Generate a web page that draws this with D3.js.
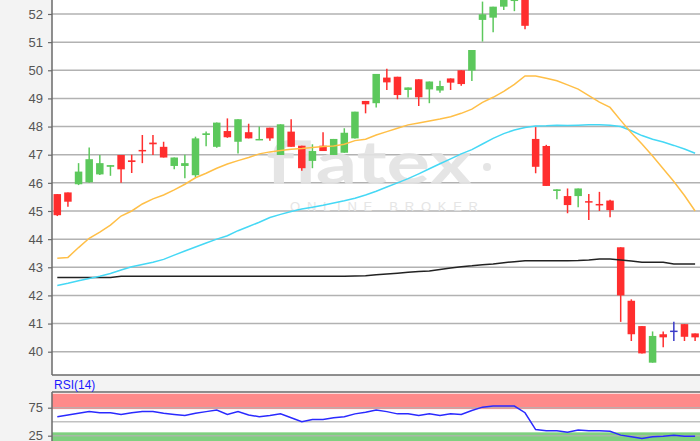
<!DOCTYPE html>
<html><head><meta charset="utf-8">
<script src="https://cdn.jsdelivr.net/npm/d3@7/dist/d3.min.js"></script>
<style>html,body{margin:0;padding:0;background:#f3f3f3;} svg{display:block}</style>
</head><body><svg id="c" width="700" height="441"></svg>
<script>
// ---- data ----
const days = [1,2,3,4,5,6,7,8,9,10,11,12,13,14,15,16,17,18,19,20,21,22,23,24,25,26,27,28,29,30,31,32,33,34,35,36,37,38,39,40,41,42,43,44,45,46,47,48,49,50,51,52,53,54,55,56,57,58,59,60,61];
const openP  = [45.6,45.66,45.95,46.02,46.3,46.57,46.99,46.8,47.17,47.43,47.28,46.6,46.6,46.27,47.7,47.28,47.84,47.46,47.8,47.52,47.96,46.99,47.82,47.32,46.78,47.32,46.99,47.07,47.58,48.91,48.83,49.74,49.77,49.3,49.68,49.32,49.28,49.71,50.0,49.99,51.79,51.87,52.26,52.46,52.7,47.56,47.31,45.71,45.53,45.53,45.35,45.25,45.37,43.71,41.81,40.91,39.61,40.62,40.75,40.98,40.65];
const highP  = [45.6,45.66,46.7,47.26,46.99,46.63,46.99,47.0,47.7,47.7,47.46,46.9,47.0,47.64,47.82,48.14,48.29,48.26,48.1,48.0,47.96,48.08,48.26,47.32,47.37,47.8,47.56,47.94,48.53,48.91,49.87,50.05,49.77,49.39,49.68,49.6,49.63,49.71,50.0,50.72,52.44,52.26,52.7,52.8,52.8,47.98,47.35,45.77,45.8,45.8,45.6,45.68,45.4,43.71,41.86,40.91,40.72,40.72,41.06,40.98,40.65];
const lowP   = [44.82,45.15,45.92,46.0,46.28,46.25,46.0,46.35,46.7,46.99,46.9,46.48,46.16,46.2,47.3,47.25,47.6,47.04,47.58,47.52,47.5,46.99,47.28,46.43,46.52,47.13,46.99,47.07,47.58,48.47,48.68,49.3,48.97,49.03,48.73,48.83,49.2,49.3,49.45,49.62,51.02,51.35,52.14,52.1,51.46,46.34,45.89,45.42,44.92,45.13,44.68,45.0,44.78,41.06,40.38,39.94,39.61,40.16,40.38,40.38,40.38];
const closeP = [44.85,45.33,46.4,46.84,46.7,46.63,46.48,46.74,47.12,47.37,46.9,46.9,46.7,47.58,47.76,48.14,47.62,48.26,47.58,47.56,47.58,48.08,47.28,46.52,47.13,47.13,47.56,47.78,48.53,48.79,49.87,49.57,49.12,49.39,49.04,49.6,49.44,49.56,49.51,50.72,51.99,52.26,52.6,52.7,51.58,46.57,45.89,45.77,45.21,45.8,45.31,45.2,45.03,42.0,40.62,39.94,40.56,40.51,40.75,40.53,40.51];
const sma20  = [43.32,43.35,43.7,44.03,44.25,44.5,44.82,45.0,45.25,45.43,45.57,45.75,45.95,46.18,46.34,46.52,46.67,46.79,46.9,47.03,47.1,47.15,47.19,47.22,47.26,47.29,47.31,47.37,47.5,47.55,47.7,47.82,47.94,48.06,48.13,48.2,48.27,48.35,48.47,48.62,48.86,49.04,49.25,49.5,49.8,49.8,49.72,49.63,49.48,49.33,49.1,48.87,48.68,48.22,47.78,47.38,46.95,46.5,46.05,45.55,45.0];
const sma50  = [42.35,42.43,42.52,42.6,42.68,42.78,42.9,43.02,43.1,43.18,43.28,43.43,43.58,43.72,43.86,44.0,44.12,44.3,44.45,44.6,44.77,44.88,44.98,45.07,45.13,45.2,45.28,45.36,45.45,45.57,45.7,45.85,46.0,46.15,46.32,46.5,46.68,46.85,47.03,47.18,47.38,47.58,47.75,47.88,47.97,48.02,48.03,48.05,48.04,48.05,48.06,48.06,48.05,48.0,47.85,47.68,47.55,47.45,47.33,47.2,47.05];
const sma200 = [42.64,42.64,42.64,42.64,42.64,42.64,42.68,42.68,42.68,42.68,42.68,42.68,42.68,42.68,42.68,42.68,42.68,42.68,42.68,42.68,42.68,42.68,42.68,42.68,42.68,42.68,42.68,42.68,42.69,42.7,42.73,42.76,42.79,42.82,42.85,42.87,42.92,42.97,43.02,43.05,43.09,43.12,43.16,43.2,43.23,43.23,43.23,43.23,43.23,43.24,43.26,43.29,43.29,43.26,43.22,43.18,43.18,43.18,43.12,43.12,43.12];
const rsi14  = [59,62,65,68,66,66,63,66,68,68,65,63,61,65,68,71,63,68,62,59,61,64,57,50,54,54,57,59,64,67,71,68,64,64,61,64,61,64,63,70,76,78,78,78,66,36,34,34,31,35,34,34,33,26,23,20,23,24,26,24,24];
const priceTicks = [40,41,42,43,44,45,46,47,48,49,50,51,52];
const rsiTicks = [25,75];
const rsiLabel = "RSI(14)";
const wmText = "flatex";
const wmSub = "ONLINE BROKER";

// ---- layout ----
const L = 52, R = 700, mainTop = 0, mainBot = 375, rsiTop = 392, rsiBot = 441;
const svg = d3.select("#c");
const x = d3.scalePoint().domain(days).range([57.3, 695.1]);
const y = d3.scaleLinear().domain([39.172, 52.497]).range([mainBot, mainTop]);
const yr = d3.scaleLinear().domain([75, 25]).range([407.7, 435.7]);

const C = {green:"#5cc85c", red:"#ff2e2e", doji:"#3a3ac8", orange:"#ffbf47", cyan:"#45d8f5", black:"#222", rsi:"#2a2aff", grid:"#b2b2b2", axis:"#6a6a6a", text:"#555"};

svg.append("defs").html(
  `<clipPath id="mc"><rect x="${L}" y="${mainTop}" width="${R-L}" height="${mainBot-mainTop}"/></clipPath>
   <clipPath id="rc"><rect x="${L}" y="${rsiTop}" width="${R-L}" height="${rsiBot-rsiTop}"/></clipPath>`);

// backgrounds
svg.append("rect").attr("x",L).attr("y",mainTop).attr("width",R-L).attr("height",mainBot-mainTop).attr("fill","#fff");
svg.append("rect").attr("x",L).attr("y",rsiTop).attr("width",R-L).attr("height",rsiBot-rsiTop).attr("fill","#fff");

// main grid
const main = svg.append("g").attr("clip-path","url(#mc)");
main.selectAll("line.g").data(priceTicks).join("line")
  .attr("x1",L).attr("x2",R).attr("y1",d=>y(d)).attr("y2",d=>y(d))
  .attr("stroke",C.grid).attr("stroke-width",1.5);

// watermark
const wm = main.append("g").attr("fill","#e3e3e3").attr("opacity",0.9);
wm.append("text").attr("x",266).attr("y",184).attr("font-family","Lato, 'DejaVu Sans', sans-serif")
  .attr("font-size",60).attr("font-weight",700).attr("textLength",206).attr("lengthAdjust","spacingAndGlyphs").text(wmText);
wm.append("circle").attr("cx",487).attr("cy",167).attr("r",4);
wm.append("text").attr("x",290).attr("y",211).attr("font-family","'Liberation Sans', Arial, sans-serif")
  .attr("font-size",13).attr("textLength",188).attr("lengthAdjust","spacing").text(wmSub);

// candles
const bw = 7.5;
const cg = main.append("g");
days.forEach((d,i)=>{
  const o=openP[i], c=closeP[i], h=highP[i], l=lowP[i];
  const col = c>o ? C.green : (c<o ? C.red : C.doji);
  const cx = x(d);
  cg.append("line").attr("x1",cx).attr("x2",cx).attr("y1",y(h)).attr("y2",y(l)).attr("stroke",col).attr("stroke-width",1.5);
  const top = y(Math.max(o,c)), bot = y(Math.min(o,c));
  cg.append("rect").attr("x",cx-bw/2).attr("y",top).attr("width",bw).attr("height",Math.max(bot-top,1.5)).attr("fill",col);
});

// moving averages
const lineGen = arr => d3.line().x((d,i)=>x(days[i])).y(d=>y(d))(arr);
main.append("path").attr("d",lineGen(sma200)).attr("fill","none").attr("stroke",C.black).attr("stroke-width",1.5);
main.append("path").attr("d",lineGen(sma50)).attr("fill","none").attr("stroke",C.cyan).attr("stroke-width",1.5);
main.append("path").attr("d",lineGen(sma20)).attr("fill","none").attr("stroke",C.orange).attr("stroke-width",1.5);

// main axis
const ax = svg.append("g").attr("transform",`translate(${L},0)`)
  .call(d3.axisLeft(y).tickValues(priceTicks).tickSize(4).tickPadding(5).tickSizeOuter(0));
ax.select(".domain").remove();
ax.selectAll("line").attr("stroke",C.axis).attr("stroke-width",1.2);
ax.selectAll("text").attr("fill",C.text).attr("font-family","'Liberation Sans', Arial, sans-serif").attr("font-size",13);
svg.append("line").attr("x1",L).attr("x2",L).attr("y1",mainTop).attr("y2",mainBot).attr("stroke",C.axis).attr("stroke-width",1.5);
svg.append("line").attr("x1",L).attr("x2",R).attr("y1",mainBot).attr("y2",mainBot).attr("stroke",C.axis).attr("stroke-width",1.5);

// RSI panel
const rp = svg.append("g").attr("clip-path","url(#rc)");
rp.append("rect").attr("x",L).attr("width",R-L).attr("y",yr(100)).attr("height",yr(72.5)-yr(100)).attr("fill","#ff8a8a");
rp.append("rect").attr("x",L).attr("width",R-L).attr("y",yr(31)).attr("height",yr(0)-yr(31)).attr("fill","#7fd07f");
rp.selectAll("line.g").data([25,50,75]).join("line")
  .attr("x1",L).attr("x2",R).attr("y1",d=>yr(d)).attr("y2",d=>yr(d))
  .attr("stroke",C.grid).attr("stroke-width",1.5).attr("stroke-opacity",0.8);
rp.append("path").attr("d",d3.line().x((d,i)=>x(days[i])).y(d=>yr(d))(rsi14))
  .attr("fill","none").attr("stroke",C.rsi).attr("stroke-width",1.5);

const rax = svg.append("g").attr("transform",`translate(${L},0)`)
  .call(d3.axisLeft(yr).tickValues(rsiTicks).tickSize(4).tickPadding(5).tickSizeOuter(0));
rax.select(".domain").remove();
rax.selectAll("line").attr("stroke",C.axis).attr("stroke-width",1.2);
rax.selectAll("text").attr("fill",C.text).attr("font-family","'Liberation Sans', Arial, sans-serif").attr("font-size",13);
svg.append("line").attr("x1",L).attr("x2",L).attr("y1",rsiTop).attr("y2",rsiBot).attr("stroke",C.axis).attr("stroke-width",1.5);
svg.append("line").attr("x1",L).attr("x2",R).attr("y1",rsiTop).attr("y2",rsiTop).attr("stroke",C.axis).attr("stroke-width",1.5);

svg.append("text").attr("x",54).attr("y",389).attr("fill","#1a1aff")
  .attr("font-family","'Liberation Sans', Arial, sans-serif").attr("font-size",12).text(rsiLabel);
</script></body></html>
